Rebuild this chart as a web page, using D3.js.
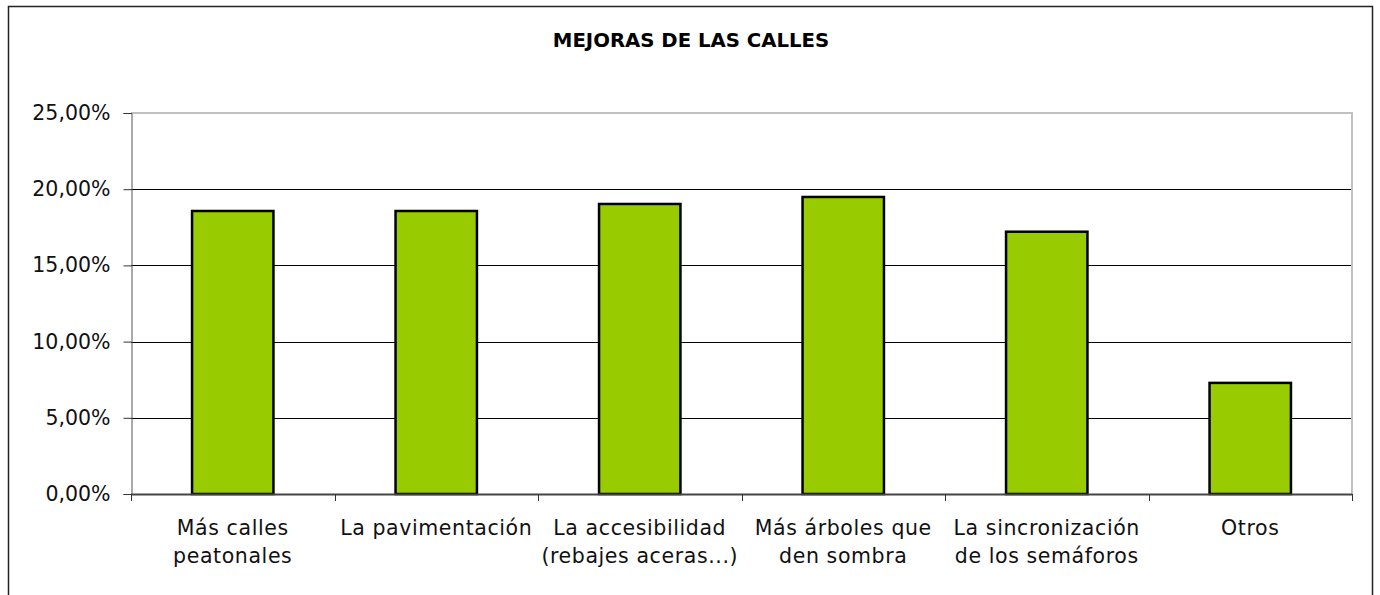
<!DOCTYPE html>
<html>
<head>
<meta charset="utf-8">
<script src="https://cdn.jsdelivr.net/npm/d3@7"></script>
<style>
  html, body { margin: 0; padding: 0; background: #fff; }
  svg { display: block; font-family: "DejaVu Sans", sans-serif; }
</style>
</head>
<body>
<svg id="chart" width="1380" height="595"></svg>
<script>
// data
const categories = [
  ["Más calles", "peatonales"],
  ["La pavimentación"],
  ["La accesibilidad", "(rebajes aceras...)"],
  ["Más árboles que", "den sombra"],
  ["La sincronización", "de los semáforos"],
  ["Otros"]
];
const values = [18.57, 18.57, 19.03, 19.49, 17.21, 7.29];
const yTicks = [0, 5, 10, 15, 20, 25];
const title = "MEJORAS DE LAS CALLES";

const width = 1380, height = 595;
const plot = { left: 131, right: 1352, top: 113, bottom: 494 };

const svg = d3.select("#chart");

// outer frame of the chart (runs off the bottom of the picture)
svg.append("rect")
  .attr("x", 8.5).attr("y", 6.5)
  .attr("width", 1364).attr("height", 600)
  .attr("fill", "#fff")
  .attr("stroke", "#222")
  .attr("stroke-width", 1.5);

svg.append("text")
  .attr("x", 691).attr("y", 47)
  .attr("text-anchor", "middle")
  .attr("font-weight", "bold")
  .attr("font-size", 19.7)
  .attr("fill", "#000")
  .text(title);

const x = d3.scaleBand()
  .domain(d3.range(categories.length))
  .range([plot.left, plot.right])
  .paddingInner(0.6)
  .paddingOuter(0.3);

const y = d3.scaleLinear()
  .domain([0, 25])
  .range([plot.bottom, plot.top]);

// plot area border: grey top & right
svg.append("path")
  .attr("d", `M${plot.left},${plot.top}H${plot.right}V${plot.bottom}`)
  .attr("fill", "none")
  .attr("stroke", "#c0c0c0")
  .attr("stroke-width", 2);

// gridlines
svg.append("g")
  .selectAll("line")
  .data(yTicks.filter(d => d > 0 && d < 25))
  .join("line")
  .attr("x1", plot.left).attr("x2", plot.right - 1)
  .attr("y1", d => Math.round(y(d)) + 0.5)
  .attr("y2", d => Math.round(y(d)) + 0.5)
  .attr("stroke", "#000")
  .attr("stroke-width", 1);

// y axis
const yAxis = d3.axisLeft(y)
  .tickValues(yTicks)
  .tickSize(8)
  .tickPadding(13)
  .tickFormat(d => d3.format(".2f")(d).replace(".", ",") + "%");

const gy = svg.append("g")
  .attr("transform", `translate(${plot.left + 0.5},0)`)
  .call(yAxis);
gy.select(".domain").attr("stroke", "#555");
gy.selectAll(".tick line").attr("stroke", "#333");
gy.selectAll(".tick text")
  .attr("font-size", 20.5)
  .attr("font-family", "DejaVu Sans, sans-serif")
  .attr("fill", "#111");

// bars
svg.append("g")
  .selectAll("rect")
  .data(values)
  .join("rect")
  .attr("x", (d, i) => x(i))
  .attr("y", d => y(d))
  .attr("width", x.bandwidth())
  .attr("height", d => y(0) - y(d))
  .attr("fill", "#99cc00")
  .attr("stroke", "#000")
  .attr("stroke-width", 2.5);

// x axis with ticks at category boundaries
const step = x.step();
const bounds = d3.range(categories.length + 1).map(i => plot.left + i * step);
const gx = svg.append("g");
gx.append("line")
  .attr("x1", plot.left).attr("x2", plot.right)
  .attr("y1", plot.bottom + 0.5).attr("y2", plot.bottom + 0.5)
  .attr("stroke", "#444")
  .attr("stroke-width", 2);
gx.selectAll(".xt")
  .data(bounds)
  .join("line")
  .attr("class", "xt")
  .attr("x1", d => Math.round(d) + 0.5).attr("x2", d => Math.round(d) + 0.5)
  .attr("y1", plot.bottom).attr("y2", plot.bottom + 7)
  .attr("stroke", "#333");

// category labels
const labels = svg.append("g")
  .selectAll("text")
  .data(categories)
  .join("text")
  .attr("text-anchor", "middle")
  .attr("font-size", 20.5)
  .attr("letter-spacing", 0.6)
  .attr("fill", "#111")
  .attr("x", (d, i) => x(i) + x.bandwidth() / 2);
labels.selectAll("tspan")
  .data(d => d)
  .join("tspan")
  .attr("x", function() { return d3.select(this.parentNode).attr("x"); })
  .attr("y", (d, j) => 535 + j * 28)
  .text(d => d);
</script>
</body>
</html>
